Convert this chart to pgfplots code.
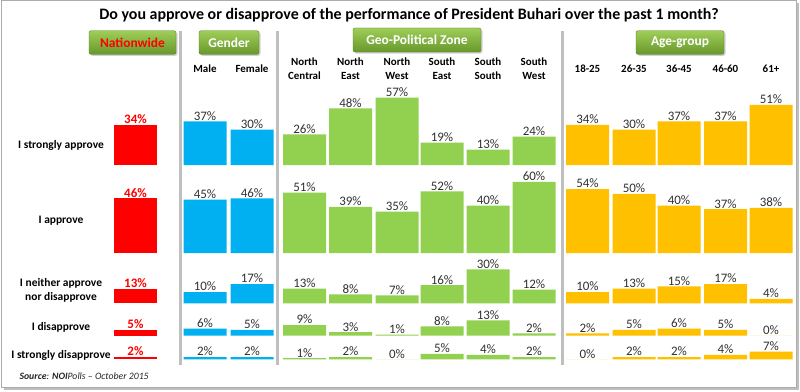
\documentclass[border=0pt]{standalone}
\usepackage{pgfplots}
\pgfplotsset{compat=1.18}
\usepackage{pgfplotstable}
\usepackage{fontspec}
\setmainfont{Carlito}
\usetikzlibrary{shadows}
\definecolor{cRed}{RGB}{255,0,0}
\definecolor{cBlue}{RGB}{0,176,240}
\definecolor{cGreen}{RGB}{146,208,80}
\definecolor{cOrange}{RGB}{255,192,0}
\definecolor{sepGray}{RGB}{191,191,191}
\definecolor{lblGray}{RGB}{50,50,50}
\definecolor{boxTop}{RGB}{158,205,88}
\definecolor{boxBot}{RGB}{104,152,44}

% x = column centre; r1..r5 = I strongly approve ... I strongly disapprove (%)
\pgfplotstableread{
x r1 r2 r3 r4 r5
135.5 34 46 13 5 2
}\nationwide
\pgfplotstableread{
x r1 r2 r3 r4 r5
205 37 45 10 6 2
252 30 46 17 5 2
}\gender
\pgfplotstableread{
x r1 r2 r3 r4 r5
304.5 26 51 13 9 1
350.5 48 39 8 3 2
397 57 35 7 1 0
442 19 52 16 8 5
488 13 40 30 13 4
534 24 60 12 2 2
}\geo
\pgfplotstableread{
x r1 r2 r3 r4 r5
587.5 34 54 10 2 0
634 30 50 13 5 2
679 37 40 15 6 2
725.5 37 37 17 5 4
771 51 38 4 0 7
}\age

\pgfplotsset{
  rowaxis/.style={
    x=1bp, xmin=0, xmax=800, ymin=0,
    anchor=south west, clip=false,
    axis line style={draw=none}, major tick length=0pt,
    xtick=\empty, ytick=\empty,
    /pgf/number format/assume math mode=true,
    ybar, bar width=43bp, bar shift=0pt,
    nodes near coords={\pgfmathprintnumber{\pgfplotspointmeta}\%},
    every node near coord/.append style={font=\fontsize{13}{13}\selectfont, text=lblGray, inner sep=0.8bp, anchor=south},
  },
}
\newcommand{\rowplots}[1]{%
  \addplot[fill=cRed, draw=none, every node near coord/.append style={text=cRed, font=\fontsize{13}{13}\selectfont\bfseries}] table[x=x, y=#1]{\nationwide};
  \addplot[fill=cBlue, draw=none] table[x=x, y=#1]{\gender};
  \addplot[fill=cGreen, draw=none] table[x=x, y=#1]{\geo};
  \addplot[fill=cOrange, draw=none] table[x=x, y=#1]{\age};
}

\begin{document}
\begin{tikzpicture}[x=1bp, y=1bp]
\useasboundingbox (0,0) rectangle (800,391);
% frame
\fill[gray!50] (3.5,1) rectangle (799,387.5);
\draw[gray!65, fill=white, line width=1bp] (1,3.5) rectangle (796.5,390);

% title
\node[font=\fontsize{16}{19}\selectfont\bfseries] at (409,376) {Do you approve or disapprove of the performance of President Buhari over the past 1 month?};

% separators
\foreach \sx in {180,277,562} \draw[sepGray, line width=3bp] (\sx,360) -- (\sx,26);

% header boxes
\tikzset{hbox/.style={rounded corners=2bp, top color=boxTop, bottom color=boxBot, draw=boxBot!85!black, line width=0.4bp, drop shadow={shadow xshift=1.5bp, shadow yshift=-1.5bp, opacity=0.35}, font=\fontsize{13.5}{15}\selectfont\bfseries, text=white, inner sep=0pt, minimum height=23.5bp}}
\node[hbox, minimum width=87bp, text=cRed] at (132.5,348.5) {Nationwide};
\node[hbox, minimum width=60bp] at (229,348.5) {Gender};
\node[hbox, minimum width=128bp, minimum height=24bp] at (417,351) {Geo-Political Zone};
\node[hbox, minimum width=88bp] at (680,348.5) {Age-group};

% rows
\begin{axis}[rowaxis, at={(0bp,226bp)}, y=1.18bp, ymax=81.4,
  xtick={205,252,304.5,350.5,397,442,488,534,587.5,634,679,725.5,771},
  xticklabels={Male,Female,North\\Central,North\\East,North\\West,South\\East,South\\South,South\\West,18-25,26-35,36-45,46-60,61+},
  xticklabel pos=right,
  xticklabel style={font=\fontsize{11}{14.5}\selectfont\bfseries, align=center, anchor=center, text=black}]
\rowplots{r1}
\end{axis}
\begin{axis}[rowaxis, at={(0bp,138bp)}, y=1.185bp, ymax=70]
\rowplots{r2}
\end{axis}
\begin{axis}[rowaxis, at={(0bp,87.7bp)}, y=1.13bp, ymax=35]
\rowplots{r3}
\end{axis}
\begin{axis}[rowaxis, at={(0bp,55.3bp)}, y=1.18bp, ymax=15]
\rowplots{r4}
\end{axis}
\begin{axis}[rowaxis, at={(0bp,31.7bp)}, y=1.1bp, ymax=10]
\rowplots{r5}
\end{axis}

% row labels
\tikzset{rlab/.style={font=\fontsize{11.5}{14}\selectfont\bfseries, align=center}}
\node[rlab] at (61,246) {I strongly approve};
\node[rlab] at (61,170) {I approve};
\node[rlab] at (61,101) {I neither approve\\nor disapprove};
\node[rlab] at (61,64) {I disapprove};
\node[rlab] at (61,36) {I strongly disapprove};

% source
\node[anchor=west, font=\fontsize{9.8}{11}\selectfont\itshape, text=black!85] at (16,15) {\textbf{Source}: \textbf{NOI}Polls -- October 2015};
\end{tikzpicture}
\end{document}
